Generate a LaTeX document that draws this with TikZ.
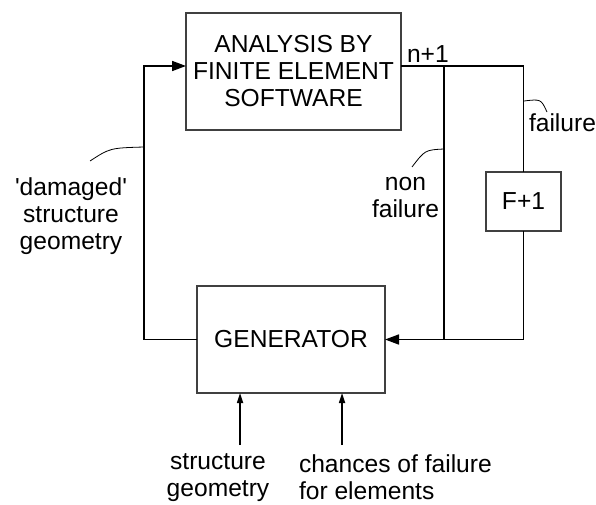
\documentclass[tikz,border=0pt]{standalone}
\usepackage{fontspec}
\setmainfont{Liberation Sans}
\usetikzlibrary{arrows.meta}
\begin{document}
\begin{tikzpicture}[x=1pt,y=-1pt,
  every node/.style={font=\fontsize{24.6}{27}\selectfont, inner sep=0pt, outer sep=0pt},
  box/.style={draw=black!75, line width=1.2pt, align=center},
  conn/.style={line width=1.6pt},
  arr/.style={conn, -{Triangle[length=14pt,width=10pt]}},
  sarr/.style={conn, -{Triangle[length=10pt,width=6pt]}},
  lead/.style={line width=0.8pt},
  lbl/.style={align=center}]
\useasboundingbox (0,0) rectangle (596,505);
% boxes
\node[box, minimum width=215pt, minimum height=117pt] (fem) at (293.5,71.5) {ANALYSIS BY\\FINITE ELEMENT\\SOFTWARE};
\node[box, minimum width=188pt, minimum height=107pt] (gen) at (291,339.5) {GENERATOR};
\node[box, minimum width=75pt, minimum height=59pt] (f1) at (523.5,201.5) {F+1};
% coordinates
\coordinate (lt) at (144,66);
\coordinate (split) at (444,66);
\coordinate (tr) at (523.5,66);
\coordinate (s1) at (240,445);
\coordinate (s2) at (342,445);
% connectors
\draw[arr] (gen.west) -| (lt) -- (lt -| fem.west);
\draw[conn] (fem.east |- tr) -- (tr) -- (f1.north);
\draw[arr] (f1.south) -- (f1.south |- gen.east) -- (gen.east);
\draw[conn] (split) -- (split |- gen.east);
\draw[sarr] (s1) -- (s1 |- gen.south);
\draw[sarr] (s2) -- (s2 |- gen.south);
% labels
\node[anchor=base west] (n1) at (407,63) {n+1};
\node[lbl] (dmg) at (71,216) {\fontsize{24.6}{23}\selectfont\textquotesingle damaged\textquotesingle\\structure\\geometry};
\node[lbl] (nf) at (405.5,198) {non\\failure};
\node[anchor=base west] (fl) at (529,132) {failure};
\node[lbl] (sg) at (218,477.5) {structure\\geometry};
\node[align=left, anchor=west] (cf) at (299,477.5) {chances of failure\\for elements};
% leaders
\coordinate (d1) at (144,147);
\coordinate (d2) at (90,161);
\draw[lead] (d1) .. controls (110,148) .. (d2);
\coordinate (e1) at (444,149);
\coordinate (e2) at (412,167);
\draw[lead] (e1) .. controls (425,150) .. (e2);
\coordinate (f1a) at (524,101);
\coordinate (f1b) at (547,112);
\draw[lead] (f1a) .. controls (541,99) .. (f1b);
\end{tikzpicture}
\end{document}
